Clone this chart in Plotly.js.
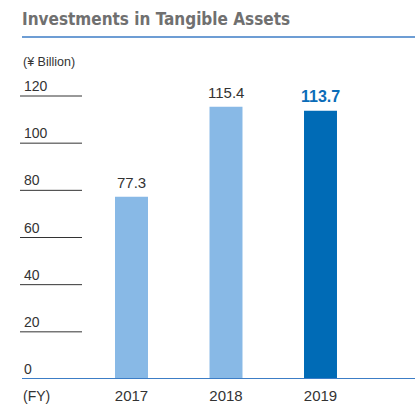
<!DOCTYPE html>
<html>
<head>
<meta charset="utf-8">
<script src="https://cdn.plot.ly/plotly-3.0.1.min.js"></script>
<style>
html,body{margin:0;padding:0;background:#fff;}
#chart{width:415px;height:409px;}
</style>
</head>
<body>
<div id="chart"></div>
<script>
// ---- data ----
const years = ["2017", "2018", "2019"];
const investments = [77.3, 115.4, 113.7];
const barColors = ["#88b9e6", "#88b9e6", "#006bb6"];
const labelColors = ["#333333", "#333333", "#0a6cb8"];
const yTicks = [0, 20, 40, 60, 80, 100, 120];
const chartTitle = "Investments in Tangible Assets";
const unitLabel = "(¥ Billion)";
const fyLabel = "(FY)";

const W = 415, H = 409;
const px = v => v / W;
const FONT = "Liberation Sans, Arial, sans-serif";

const trace = {
  type: "bar",
  x: years,
  y: investments,
  width: 0.349,
  marker: {color: barColors, line: {width: 0}},
  hoverinfo: "none"
};

const shapes = [];
yTicks.forEach(t => {
  if (t === 0) return;
  shapes.push({type: "line", xref: "paper", yref: "y", x0: px(20), x1: px(82), y0: t, y1: t,
    line: {color: "#333333", width: 1}});
});
// baseline
shapes.push({type: "line", xref: "paper", yref: "y", x0: px(22), x1: 1, y0: 0, y1: 0,
  line: {color: "#3c7dc6", width: 2}});
// title underline
shapes.push({type: "line", xref: "paper", yref: "paper", x0: px(22), x1: 1,
  y0: (379 - 37) / 307, y1: (379 - 37) / 307, line: {color: "#3c7dc6", width: 1.5}});

const annotations = [];
yTicks.forEach(t => {
  annotations.push({xref: "paper", yref: "y", x: px(22), y: t, xanchor: "left", yanchor: "bottom",
    text: String(t), showarrow: false, yshift: 0,
    font: {family: FONT, size: 14, color: "#333333"}});
});
investments.forEach((v, i) => {
  const last = i === investments.length - 1;
  annotations.push({xref: "x", yref: "y", x: i, y: v, xanchor: "center", yanchor: "bottom",
    text: last ? "<b>" + v.toFixed(1) + "</b>" : v.toFixed(1), showarrow: false, yshift: 4,
    font: {family: FONT, size: last ? 16 : 15, color: labelColors[i]}});
});
annotations.push({xref: "paper", yref: "paper", x: px(21), y: (379 - 396) / 307, xanchor: "left", yanchor: "middle",
  text: fyLabel, showarrow: false, font: {family: FONT, size: 14, color: "#333333"}});
annotations.push({xref: "paper", yref: "paper", x: px(21), y: (379 - 62) / 307, xanchor: "left", yanchor: "middle",
  text: unitLabel, showarrow: false, font: {family: FONT, size: 12.5, color: "#333333"}});
annotations.push({xref: "paper", yref: "paper", x: px(20), y: (379 - 19) / 307, xanchor: "left", yanchor: "middle",
  text: "<b>" + chartTitle + "</b>", showarrow: false,
  font: {family: "DejaVu Sans Condensed, Liberation Sans Narrow, sans-serif", size: 17, color: "#707070"}});

const layout = {
  width: W, height: H,
  margin: {l: 0, r: 0, t: 72, b: 30, pad: 0},
  paper_bgcolor: "#ffffff",
  plot_bgcolor: "#ffffff",
  showlegend: false,
  xaxis: {type: "category", range: [-1.3915, 3.0], showgrid: false, zeroline: false, showline: false,
    ticks: "", ticklabelstandoff: 6, tickfont: {family: FONT, size: 15, color: "#333333"},
    fixedrange: true},
  yaxis: {range: [0, 130.18], showgrid: false, zeroline: false, showline: false, showticklabels: false,
    ticks: "", fixedrange: true},
  shapes: shapes,
  annotations: annotations
};

Plotly.newPlot("chart", [trace], layout, {displayModeBar: false, staticPlot: true});
</script>
</body>
</html>
